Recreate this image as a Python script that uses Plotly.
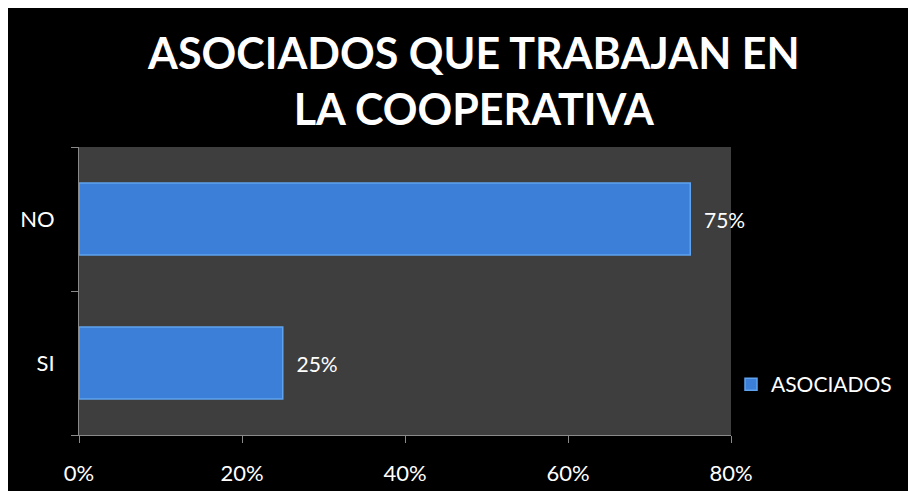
import plotly.graph_objects as go

categories = ["SI", "NO"]
values = [25, 75]
value_labels = ["25%", "75%"]
series_name = "ASOCIADOS"
x_ticks = [0, 20, 40, 60, 80]
x_tick_labels = ["0%", "20%", "40%", "60%", "80%"]

fig = go.Figure()
fig.add_trace(go.Bar(
    y=categories, x=values, orientation="h", name=series_name,
    text=value_labels, textposition="outside",
    texttemplate="\u00a0\u00a0%{text}",
    textfont=dict(color="white", size=21, family="Lato"),
    marker=dict(color="#3b7fd9", line=dict(color="#5fa2ee", width=1.5)),
    width=0.5, cliponaxis=False,
))

fig.update_layout(
    width=908, height=483,
    paper_bgcolor="black", plot_bgcolor="#3e3e3e",
    margin=dict(l=71, r=185, t=139, b=56, autoexpand=False),
    title=dict(
        text="ASOCIADOS QUE TRABAJAN EN<br>LA COOPERATIVA",
        x=0.513, xanchor="center", xref="container",
        yref="container", y=0.873, yanchor="middle",
        font=dict(family="Lato", size=43, color="white", weight="bold"),
    ),
    showlegend=True,
    legend=dict(x=1.0, xanchor="left", y=0.175, yanchor="middle",
                font=dict(color="white", size=21, family="Lato"),
                bgcolor="rgba(0,0,0,0)"),
    font=dict(family="Lato", color="white"),
    bargap=0.5,
)
fig.update_xaxes(
    range=[0, 80], tickvals=x_ticks, ticktext=x_tick_labels,
    showgrid=False, zeroline=False, showline=True, linecolor="#8a8a8a",
    ticks="outside", ticklen=7, tickcolor="#8a8a8a",
    tickfont=dict(size=22, color="white", family="Lato"),
    ticklabelstandoff=12, automargin=False,
)
fig.update_yaxes(
    showgrid=False, showline=True, linecolor="#8a8a8a",
    ticks="outside", ticklen=7, tickcolor="#8a8a8a", tickson="boundaries",
    tickfont=dict(size=22, color="white", family="Lato"),
    ticklabelstandoff=19, automargin=False,
)
fig.write_html("out.html")
